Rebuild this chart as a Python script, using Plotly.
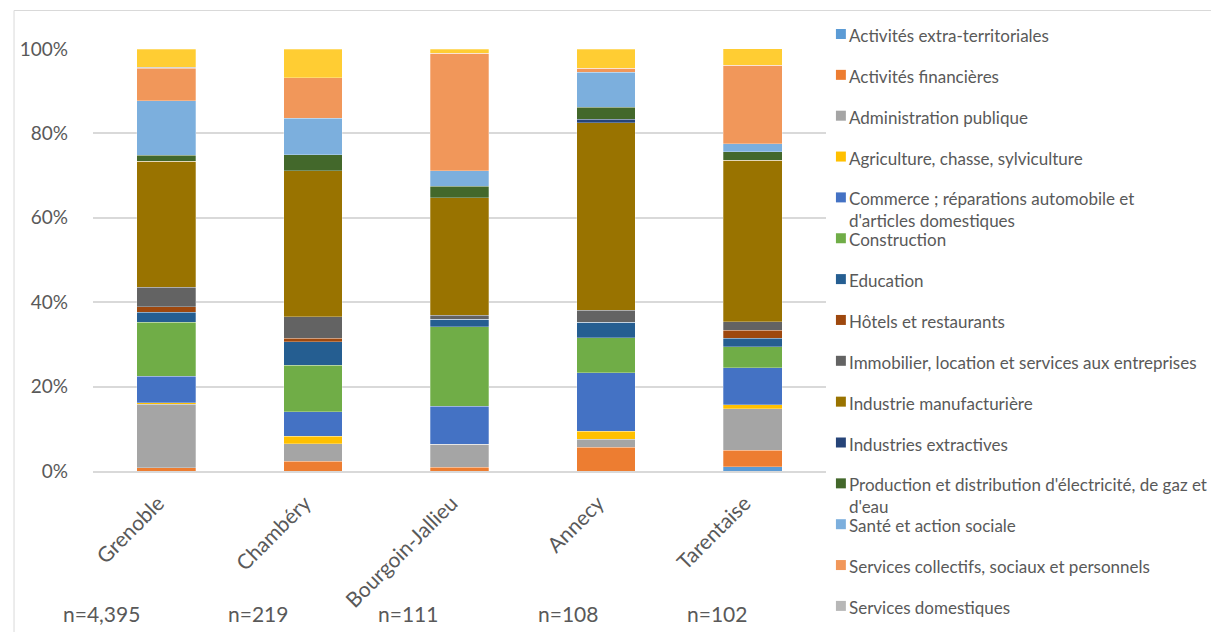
import plotly.graph_objects as go

# ---- Data (shares, % of each zone) -------------------------------------------

ZONES = ["Grenoble", "Chambéry", "Bourgoin-Jallieu", "Annecy", "Tarentaise"]
N_LABELS = ["n=4,395", "n=219", "n=111", "n=108", "n=102"]

SECTORS = [
    "Activités extra-territoriales",
    "Activités financières",
    "Administration publique",
    "Agriculture, chasse, sylviculture",
    "Commerce ; réparations automobile et<br>d'articles domestiques",
    "Construction",
    "Education",
    "Hôtels et restaurants",
    "Immobilier, location et services aux entreprises",
    "Industrie manufacturière",
    "Industries extractives",
    "Production et distribution d'électricité, de gaz et<br>d'eau",
    "Santé et action sociale",
    "Services collectifs, sociaux et personnels",
    "Services domestiques",
    "Non renseigné",
]

EXTRA_TERR = [0.0, 0.0, 0.0, 0.0, 1.0]
FINANCE = [0.8, 2.3, 0.9, 5.6, 3.9]
ADMIN = [15.0, 4.1, 5.4, 1.9, 9.8]
AGRI = [0.4, 1.8, 0.0, 1.9, 1.0]
COMMERCE = [6.2, 5.9, 9.0, 13.9, 8.8]
CONSTRUCTION = [12.8, 11.0, 18.9, 8.3, 4.9]
EDUCATION = [2.4, 5.5, 1.8, 3.7, 2.0]
HOTELS = [1.3, 0.9, 0.0, 0.0, 2.0]
IMMOBILIER = [4.7, 5.0, 0.9, 2.8, 2.0]
MANUF = [29.8, 34.7, 27.9, 44.4, 38.2]
EXTRACTIVES = [0.0, 0.0, 0.0, 0.9, 0.0]
ENERGIE = [1.4, 3.7, 2.7, 2.8, 2.0]
SANTE = [12.9, 8.7, 3.6, 8.3, 2.0]
SERV_COLL = [7.7, 9.6, 27.9, 0.9, 18.6]
SERV_DOM = [0.3, 0.0, 0.0, 0.0, 0.0]
NON_RENS = [4.3, 6.8, 0.9, 4.6, 3.9]

SERIES = [EXTRA_TERR, FINANCE, ADMIN, AGRI, COMMERCE, CONSTRUCTION, EDUCATION,
          HOTELS, IMMOBILIER, MANUF, EXTRACTIVES, ENERGIE, SANTE, SERV_COLL,
          SERV_DOM, NON_RENS]

COLORS = ["#5B9BD5", "#ED7D31", "#A5A5A5", "#FFC000", "#4472C4", "#70AD47",
          "#255E91", "#9E480E", "#636363", "#997300", "#264478", "#43682B",
          "#7CAFDD", "#F1975A", "#B7B7B7", "#FFCD33"]

# ---- Geometry (page pixels; the page body has an 8px margin) -----------------

W, H = 1219, 632
BODY = 8
PL, PR, PT, PB = 88, 826, 49, 471
TEXT = "#595959"
FONT = "Lato"


def px_x(px):
    return (px - PL) / (PR - PL)


def px_y(py):
    return (PB - py) / (PB - PT)


fig = go.Figure()
for name, vals, color in zip(SECTORS, SERIES, COLORS):
    fig.add_trace(go.Bar(
        x=ZONES, y=[v / 100 for v in vals], name=name,
        marker=dict(color=color, line=dict(color="rgba(255,255,255,0.35)", width=0.8)),
        showlegend=False,
    ))

# Legend drawn by hand so every entry keeps the same spacing (Excel style);
# the 16th entry is cut off at the bottom of the frame in the original.
LEG_Y0, LEG_STEP = 34, 40.85
shapes = []
annotations = []
for i, (name, color) in enumerate(zip(SECTORS[:15], COLORS[:15])):
    yc = LEG_Y0 + i * LEG_STEP
    shapes.append(dict(type="rect", xref="paper", yref="paper",
                       x0=px_x(836), x1=px_x(846), y0=px_y(yc + 5), y1=px_y(yc - 5),
                       fillcolor=color, line=dict(width=0)))
    annotations.append(dict(xref="paper", yref="paper", x=px_x(847), y=px_y(yc - 11),
                            xanchor="left", yanchor="top", align="left",
                            text=name, showarrow=False,
                            font=dict(family=FONT, size=17, color=TEXT)))

N_X = [97, 254, 405, 566, 716]
for label, xc in zip(N_LABELS, N_X):
    annotations.append(dict(xref="paper", yref="paper", x=px_x(xc), y=px_y(613),
                            xanchor="center", yanchor="middle", text=label,
                            showarrow=False, font=dict(family=FONT, size=21, color=TEXT)))

# chart frame
shapes.append(dict(type="rect", xref="paper", yref="paper", layer="below",
                   x0=px_x(8.5), x1=px_x(1217.5), y0=px_y(660), y1=px_y(10.5),
                   line=dict(color="#D9D9D9", width=1), fillcolor="rgba(0,0,0,0)"))

fig.update_layout(
    barmode="stack",
    bargap=0.6,
    width=W - BODY, height=H - BODY,
    margin=dict(l=PL - BODY, r=W - PR, t=PT - BODY, b=H - PB),
    paper_bgcolor="white",
    plot_bgcolor="white",
    font=dict(family=FONT, color=TEXT),
    shapes=shapes,
    annotations=annotations,
    xaxis=dict(tickangle=-45, tickfont=dict(size=21, color=TEXT),
               ticklabelstandoff=10, ticklabelshift=-8,
               showline=True, linecolor="#D9D9D9", linewidth=1.5, ticks=""),
    yaxis=dict(range=[0, 1], tickvals=[0, 0.2, 0.4, 0.6, 0.8, 1.0], tickformat=".0%",
               tickfont=dict(size=19, color=TEXT), gridcolor="#D9D9D9", gridwidth=1.5,
               zeroline=False, ticks="", ticklabelstandoff=24),
)

fig.write_html("out.html")
